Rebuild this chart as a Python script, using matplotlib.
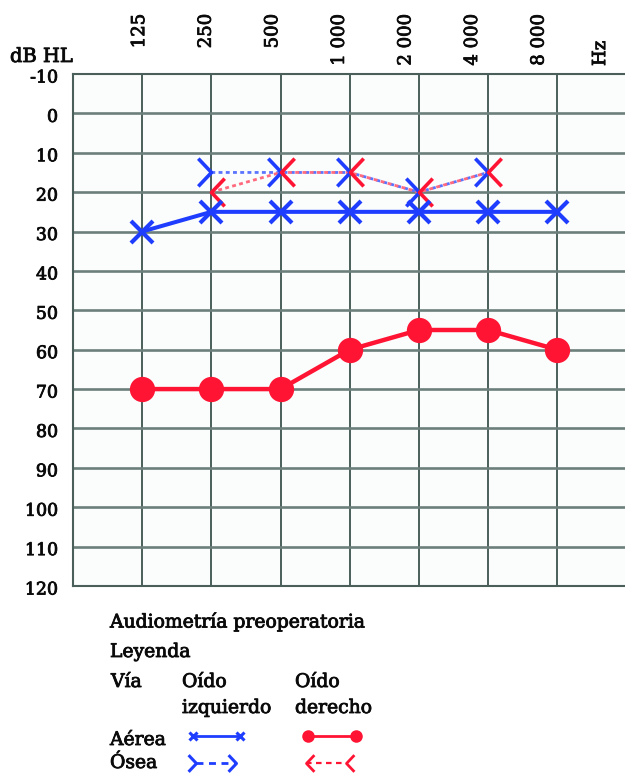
import matplotlib
matplotlib.use("Agg")
import matplotlib.pyplot as plt
import matplotlib.patheffects as pe
from matplotlib.path import Path
from matplotlib.lines import Line2D
from matplotlib.transforms import blended_transform_factory, offset_copy

# ---- audiogram data (dB HL) ----
freq_labels = ["125", "250", "500", "1 000", "2 000", "4 000", "8 000"]
db_ticks = list(range(-10, 121, 10))

left_air = [30, 25, 25, 25, 25, 25, 25]          # 125 .. 8000 Hz
right_air = [70, 70, 70, 60, 55, 55, 60]         # 125 .. 8000 Hz
bone_freq_idx = [2, 3, 4, 5, 6]                  # 250 .. 4000 Hz
left_bone = [15, 15, 15, 20, 15]
right_bone = [20, 15, 15, 20, 15]

BLUE = "#1f3dff"
BLUE_LIGHT = "#5b74ff"
RED = "#ff1434"
RED_LIGHT = "#ff6a7e"
GRID_H = "#6c7f7b"
GRID_V = "#4a5e5a"
INK = "#0a0a0a"
SERIF = "DejaVu Serif"
heavy = [pe.withStroke(linewidth=0.6, foreground=INK)]

W, H = 625, 778
fig = plt.figure(figsize=(W / 100, H / 100), dpi=100)
fig.patch.set_facecolor("white")


def fx(px):
    return px / W


def fy(py):
    return 1 - py / H


ax = fig.add_axes([fx(73), fy(586), fx(625) - fx(73), fy(74) - fy(586)])
ax.set_facecolor("#fbfcfc")
ax.set_xlim(0, 7.98)
ax.set_ylim(120, -10)
ax.set_xticks([])
ax.set_yticks([])
ax.spines["right"].set_visible(False)
for s in ("left", "top", "bottom"):
    ax.spines[s].set_color(GRID_V)
    ax.spines[s].set_linewidth(1.5)

cols = list(range(1, len(freq_labels) + 1))
for c in cols:
    ax.axvline(c, color=GRID_V, lw=1.4, zorder=1)
for d in db_ticks[1:-1]:
    ax.axhline(d, color=GRID_H, lw=1.9, zorder=1)

# ---- bone-conduction markers: open brackets with the tip on the frequency ----
left_bracket = Path([(-0.95, 1.0), (0.0, 0.0), (-0.95, -1.0)],
                    [Path.MOVETO, Path.LINETO, Path.LINETO])
right_bracket = Path([(0.95, 1.0), (0.0, 0.0), (0.95, -1.0)],
                     [Path.MOVETO, Path.LINETO, Path.LINETO])

ax.plot(bone_freq_idx, left_bone, color=BLUE_LIGHT, lw=2.0,
        linestyle=(0, (1.4, 1.2)), zorder=3)
ax.plot(bone_freq_idx, left_bone, linestyle="none", marker=left_bracket,
        markersize=20, markeredgewidth=2.6, markeredgecolor=BLUE,
        markerfacecolor="none", zorder=5)
ax.plot(bone_freq_idx, right_bone, color=RED_LIGHT, lw=2.0,
        linestyle=(0, (1.4, 1.2)), zorder=4)
ax.plot(bone_freq_idx, right_bone, linestyle="none", marker=right_bracket,
        markersize=20, markeredgewidth=2.6, markeredgecolor=RED,
        markerfacecolor="none", zorder=5)

# ---- air conduction ----
ax.plot(cols, left_air, color=BLUE, lw=2.9, marker="x", markersize=16,
        markeredgewidth=3.0, zorder=6)
ax.plot(cols, right_air, color=RED, lw=3.2, marker="o", markersize=17,
        markeredgewidth=1.2, markeredgecolor=RED, zorder=6)

# ---- axis labels ----
ylab_tr = offset_copy(blended_transform_factory(ax.transAxes, ax.transData),
                      fig=fig, x=-15, y=-4, units="dots")
for d in db_ticks:
    ax.text(0, d, str(d), transform=ylab_tr, ha="right", va="center",
            fontsize=12.5, family=SERIF, color=INK, clip_on=False,
            path_effects=heavy)

top_tr = blended_transform_factory(ax.transData, fig.transFigure)
for i, (c, lab) in enumerate(zip(cols, freq_labels)):
    nudge = offset_copy(top_tr, fig=fig, x=-3 - 2.6 * i, y=0, units="dots")
    ax.text(c, fy(14), lab, transform=nudge, rotation=90, ha="center",
            va="top", fontsize=13, family=SERIF, color=INK,
            path_effects=heavy)
ax.text(7.62, fy(66), "Hz", transform=top_tr, rotation=90, ha="center",
        va="bottom", fontsize=13, family=SERIF, color=INK,
        path_effects=heavy)
fig.text(fx(10), fy(57), "dB HL", ha="left", va="center", fontsize=14,
         family=SERIF, color=INK, path_effects=heavy)

# ---- legend block ----
legend_texts = [
    ("Audiometría preoperatoria", 110, 622),
    ("Leyenda", 110, 652),
    ("Vía", 111, 682),
    ("Oído", 182, 682),
    ("Oído", 295, 682),
    ("izquierdo", 182, 708),
    ("derecho", 295, 708),
    ("Aérea", 110, 740),
    ("Ósea", 110, 763),
]
for txt, px, py in legend_texts:
    fig.text(fx(px), fy(py), txt, ha="left", va="center", fontsize=13.5,
             family=SERIF, color=INK, path_effects=heavy)

fig.add_artist(Line2D([fx(193), fx(240)], [fy(736), fy(736)], color=BLUE,
                      lw=2, marker="x", markersize=6, markeredgewidth=2.2,
                      transform=fig.transFigure))
fig.add_artist(Line2D([fx(308), fx(356)], [fy(736), fy(736)], color=RED,
                      lw=2, marker="o", markersize=8, markeredgewidth=1,
                      transform=fig.transFigure))
fig.add_artist(Line2D([fx(196), fx(236)], [fy(763), fy(763)], color=BLUE,
                      lw=2, linestyle=(0, (2.5, 2)),
                      transform=fig.transFigure))
fig.add_artist(Line2D([fx(196), fx(236)], [fy(763), fy(763)],
                      linestyle="none", marker=left_bracket, markersize=12,
                      markeredgewidth=2.2, markeredgecolor=BLUE,
                      markerfacecolor="none", transform=fig.transFigure))
fig.add_artist(Line2D([fx(306), fx(346)], [fy(763), fy(763)], color=RED,
                      lw=1.6, linestyle=(0, (2.5, 2)),
                      transform=fig.transFigure))
fig.add_artist(Line2D([fx(306), fx(346)], [fy(763), fy(763)],
                      linestyle="none", marker=right_bracket, markersize=12,
                      markeredgewidth=2.0, markeredgecolor=RED,
                      markerfacecolor="none", transform=fig.transFigure))

fig.savefig("out.png", dpi=100)
